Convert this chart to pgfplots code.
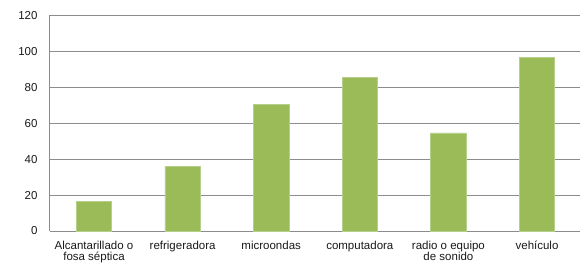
\documentclass[border=0pt]{standalone}
\usepackage{fontspec}
\setmainfont{Liberation Sans}
\usepackage{pgfplots}
\pgfplotsset{compat=1.18}
\definecolor{barg}{HTML}{9BBB59}
\definecolor{baredge}{HTML}{B5D08A}
\definecolor{gridg}{HTML}{8C8C8C}
\begin{document}
\begin{tikzpicture}
\useasboundingbox (-49.7pt,-34pt) rectangle (530.3pt,231pt);
\begin{axis}[
  scale only axis,
  width=530.3pt, height=215.5pt,
  at={(0,0)}, anchor=south west,
  xmin=-0.5, xmax=5.485,
  ymin=0, ymax=120,
  ytick={0,20,...,120},
  xtick={0,1,2,3,4,5},
  xticklabels={{Alcantarillado o\\fosa séptica},{refrigeradora},{microondas},{computadora},{radio o equipo\\de sonido},{vehículo}},
  xticklabel style={align=center, font=\fontsize{11.5}{11.2}\selectfont, text=black!90, inner sep=0pt},
  yticklabel style={font=\fontsize{11.5}{12}\selectfont, text=black!90, inner sep=0pt},
  /pgf/number format/assume math mode=true,
  major tick length=0pt,
  ymajorgrids,
  grid style={gridg, line width=0.8pt},
  axis x line*=bottom, axis y line*=left,
  axis line style={gridg, line width=0.8pt, -},
  x axis line style={-}, y axis line style={-},
  yticklabel shift=12pt,
  xticklabel shift=10pt,
  ybar, bar width=35.3pt,
  clip=false,
]
\addplot[fill=barg, draw=baredge, line width=0.6pt] coordinates {(0,16.7) (1,35.8) (2,70.5) (3,85.6) (4,54.6) (5,96.7)};
\end{axis}
\end{tikzpicture}
\end{document}
